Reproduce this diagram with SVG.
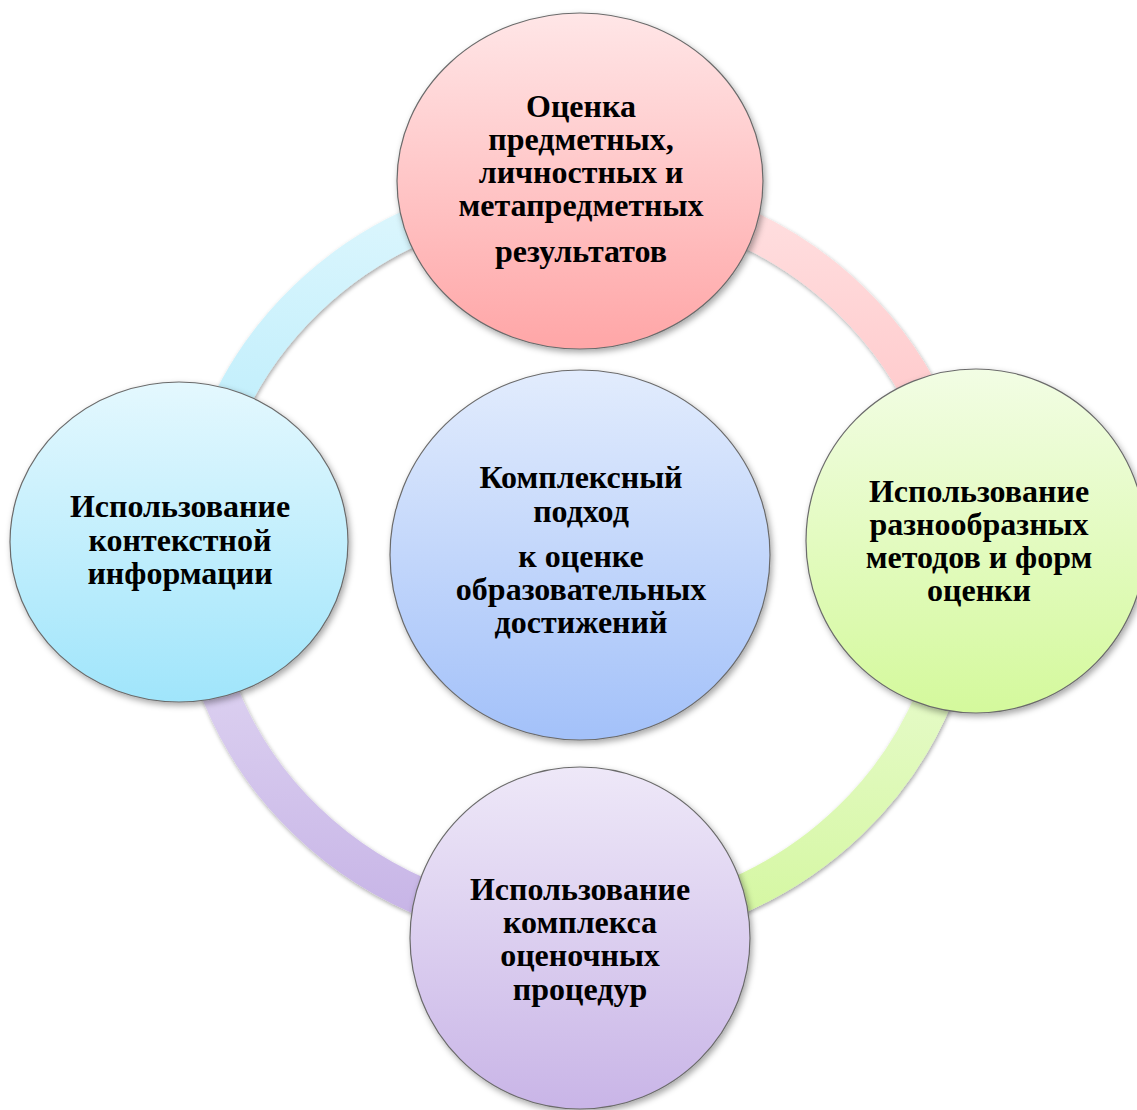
<svg xmlns="http://www.w3.org/2000/svg" width="1137" height="1110" viewBox="0 0 1137 1110">
<style>
.node{stroke:#6b6b6b;stroke-width:1.2;filter:url(#sh)}
.arc{fill:none;stroke-width:37;filter:url(#sh2)}
text{font-family:"Liberation Serif","Times New Roman",serif;font-weight:bold;font-size:32px;fill:#000;text-anchor:middle}
</style>
<defs>
<filter id="sh" x="-10%" y="-10%" width="125%" height="125%">
<feDropShadow dx="2" dy="3" stdDeviation="3" flood-color="#000" flood-opacity="0.35"/>
</filter>
<filter id="sh2" x="-10%" y="-10%" width="125%" height="125%">
<feDropShadow dx="1" dy="2" stdDeviation="2" flood-color="#000" flood-opacity="0.35"/>
</filter>
<linearGradient id="gTop" x1="0" y1="0" x2="0" y2="1"><stop offset="0" stop-color="#ffe6e7"/><stop offset="1" stop-color="#ffa6a7"/></linearGradient>
<linearGradient id="gCen" x1="0" y1="0" x2="0" y2="1"><stop offset="0" stop-color="#e2ecfd"/><stop offset="1" stop-color="#a3c1f9"/></linearGradient>
<linearGradient id="gLeft" x1="0" y1="0" x2="0" y2="1"><stop offset="0" stop-color="#e4f8fe"/><stop offset="1" stop-color="#a0e5fb"/></linearGradient>
<linearGradient id="gRight" x1="0" y1="0" x2="0" y2="1"><stop offset="0" stop-color="#f2fde4"/><stop offset="1" stop-color="#d4f99c"/></linearGradient>
<linearGradient id="gBot" x1="0" y1="0" x2="0" y2="1"><stop offset="0" stop-color="#eee8f8"/><stop offset="1" stop-color="#c9b5e7"/></linearGradient>
<linearGradient id="aTL" gradientUnits="userSpaceOnUse" x1="0" y1="200" x2="0" y2="560"><stop offset="0" stop-color="#dcf6fd"/><stop offset="1" stop-color="#b0eafb"/></linearGradient>
<linearGradient id="aTR" gradientUnits="userSpaceOnUse" x1="0" y1="200" x2="0" y2="560"><stop offset="0" stop-color="#ffdfe0"/><stop offset="1" stop-color="#ffbcbe"/></linearGradient>
<linearGradient id="aBR" gradientUnits="userSpaceOnUse" x1="0" y1="560" x2="0" y2="930"><stop offset="0" stop-color="#eefcdc"/><stop offset="1" stop-color="#d4f7a0"/></linearGradient>
<linearGradient id="aBL" gradientUnits="userSpaceOnUse" x1="0" y1="560" x2="0" y2="930"><stop offset="0" stop-color="#e6def5"/><stop offset="1" stop-color="#c6b3e6"/></linearGradient>
</defs>
<rect width="1137" height="1110" fill="#fff"/>
<g id="connectors">
<path class="arc" stroke="url(#aTL)" d="M 194 560 A 384 369 0 0 1 578 191"/>
<path class="arc" stroke="url(#aTR)" d="M 578 191 A 384 369 0 0 1 962 560"/>
<path class="arc" stroke="url(#aBR)" d="M 962 560 A 384 369 0 0 1 578 929"/>
<path class="arc" stroke="url(#aBL)" d="M 578 929 A 384 369 0 0 1 194 560"/>
</g>
<g id="node-top">
<ellipse class="node" cx="580" cy="181" rx="183" ry="168" fill="url(#gTop)"/>
<text x="581" y="117">Оценка</text>
<text x="581" y="150">предметных,</text>
<text x="581" y="183">личностных и</text>
<text x="581" y="216">метапредметных</text>
<text x="581" y="262">результатов</text>
</g>
<g id="node-center">
<ellipse class="node" cx="580" cy="555" rx="190" ry="185" fill="url(#gCen)"/>
<text x="581" y="488">Комплексный</text>
<text x="581" y="522">подход</text>
<text x="581" y="567">к оценке</text>
<text x="581" y="600">образовательных</text>
<text x="581" y="633">достижений</text>
</g>
<g id="node-left">
<ellipse class="node" cx="179" cy="542" rx="169" ry="160" fill="url(#gLeft)"/>
<text x="180" y="517">Использование</text>
<text x="180" y="551">контекстной</text>
<text x="180" y="584">информации</text>
</g>
<g id="node-right">
<ellipse class="node" cx="976" cy="541" rx="170" ry="172" fill="url(#gRight)"/>
<text x="979" y="502">Использование</text>
<text x="979" y="535">разнообразных</text>
<text x="979" y="568">методов и форм</text>
<text x="979" y="601">оценки</text>
</g>
<g id="node-bottom">
<ellipse class="node" cx="580" cy="938" rx="170" ry="171" fill="url(#gBot)"/>
<text x="580" y="900">Использование</text>
<text x="580" y="933">комплекса</text>
<text x="580" y="966">оценочных</text>
<text x="580" y="1000">процедур</text>
</g>
</svg>
